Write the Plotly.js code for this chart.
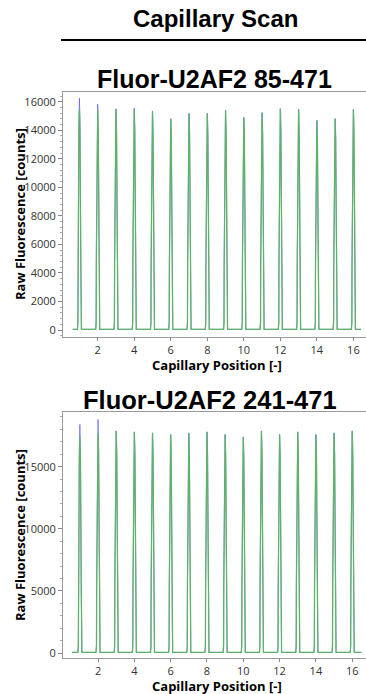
<!DOCTYPE html>
<html>
<head>
<meta charset="utf-8">
<script src="https://cdn.plot.ly/plotly-3.0.1.min.js"></script>
<style>html,body{margin:0;padding:0;background:#fff;}#chart{width:366px;height:694px;}</style>
</head>
<body>
<div id="chart"></div>
<script>
// ---- data ----
const capillaries = [1,2,3,4,5,6,7,8,9,10,11,12,13,14,15,16];
const xTicks = [2,4,6,8,10,12,14,16];

const titleMain = "Capillary Scan";
const title1 = "Fluor-U2AF2 85-471";
const title2 = "Fluor-U2AF2 241-471";
const xTitle = "Capillary Position [-]";
const yTitle = "Raw Fluorescence [counts]";

// sample 1: peak maxima (counts)
const s1Blue  = [16250,15830,15500,15550,15360,14820,15190,15190,15400,14910,15240,15520,15480,14700,14820,15480];
const s1Green = [15430,15380,15470,15410,15330,14790,15170,15170,15380,14890,15220,15500,15460,14680,14800,15460];
// sample 2: peak maxima (counts)
const s2Blue  = [18400,18800,17890,17810,17730,17600,17730,17810,17600,17410,17890,17600,17810,17600,17730,17890];
const s2Green = [17400,17700,17850,17780,17700,17570,17700,17790,17570,17390,17870,17570,17790,17570,17700,17870];

const baseline = 50;
const scanRange1 = [0.63, 16.42];
const scanRange2 = [0.56, 16.5];

// peak profile used to draw each capillary spike
const profileDx = [-0.11,-0.085,-0.075,-0.03,0,0.03,0.075,0.085,0.11];
const profileF  = [0,0.03,0.3,0.9,1,0.9,0.3,0.03,0];

function buildScan(pos, heights, range){
  const x=[range[0]], y=[baseline];
  pos.forEach((p,i)=>{
    profileDx.forEach((d,k)=>{
      x.push(p+d);
      y.push(baseline + (heights[i]-baseline)*profileF[k]);
    });
  });
  x.push(range[1]); y.push(baseline);
  return {x,y};
}

const blueCol = 'rgb(70,70,245)';
const greenCol = 'rgb(95,178,105)';

function tr(data, color, xa, ya, w){
  return {type:'scatter', mode:'lines', x:data.x, y:data.y, xaxis:xa, yaxis:ya,
    line:{color:color, width:w}, hoverinfo:'skip', showlegend:false};
}

const traces = [
  tr(buildScan(capillaries, s1Blue, scanRange1), blueCol, 'x', 'y', 0.6),
  tr(buildScan(capillaries, s1Green, scanRange1), greenCol, 'x', 'y', 1.3),
  tr(buildScan(capillaries, s2Blue, scanRange2), blueCol, 'x2', 'y2', 0.6),
  tr(buildScan(capillaries, s2Green, scanRange2), greenCol, 'x2', 'y2', 1.3)
];

const H = 694, L = 63, W = 303;
const tickFont = {family:'Open Sans, Noto Sans, sans-serif', size:11, color:'#333'};

function xax(range, anchor){
  return {range:range, anchor:anchor, tickvals:xTicks, ticktext:xTicks.map(String),
    ticks:'outside', ticklen:3, tickcolor:'#888', showline:true, linecolor:'#9a9a9a', linewidth:1,
    mirror:true, showgrid:false, zeroline:false, tickfont:tickFont};
}
function yax(range, dtick, minorDtick, domain, anchor){
  return {range:range, domain:domain, anchor:anchor, dtick:dtick, tick0:0, tickformat:'d',
    ticks:'outside', ticklen:4, tickcolor:'#888', showline:true, linecolor:'#9a9a9a', linewidth:1,
    showgrid:false, zeroline:false, tickfont:tickFont,
    minor:{dtick:minorDtick, tick0:0, ticks:'outside', ticklen:2, tickcolor:'#aaa'}};
}

function ann(text, xpx, ypx, size, fam, angle){
  return {text:'<b>'+text+'</b>', xref:'paper', yref:'paper', x:(xpx-L)/W, y:1-ypx/H,
    xanchor:'center', yanchor:'middle', showarrow:false, textangle:angle||0,
    font:{family:fam, size:size, color:'#000'}};
}
const titleFam = 'Liberation Sans, Arial, sans-serif';
const axFam = 'Open Sans, Noto Sans, sans-serif';

const layout = {
  width:366, height:H, margin:{l:L, r:0, t:0, b:0}, paper_bgcolor:'#fff', plot_bgcolor:'#fff',
  xaxis: xax([0.1,16.69],'y'),
  yaxis: yax([-490,16680], 2000, 400, [1-337/H, 1-92/H], 'x'),
  xaxis2: xax([0.07,16.76],'y2'),
  yaxis2: yax([-400,19400], 5000, 1000, [1-658/H, 1-412/H], 'x2'),
  annotations:[
    ann(titleMain, 215, 18, 24, titleFam),
    ann(title1, 214, 79, 25, titleFam),
    ann(title2, 210, 400, 25.5, titleFam),
    ann(xTitle, 217, 364.5, 13, axFam),
    ann(xTitle, 217, 686, 13, axFam),
    ann(yTitle, 20, 214, 13, axFam, -90),
    ann(yTitle, 20, 535, 13, axFam, -90)
  ],
  shapes:[
    {type:'line', xref:'paper', yref:'paper', x0:(61-L)/W, x1:1, y0:1-40/H, y1:1-40/H, line:{color:'#000', width:2}}
  ]
};

Plotly.newPlot('chart', traces, layout, {displayModeBar:false, staticPlot:true});
</script>
</body>
</html>
